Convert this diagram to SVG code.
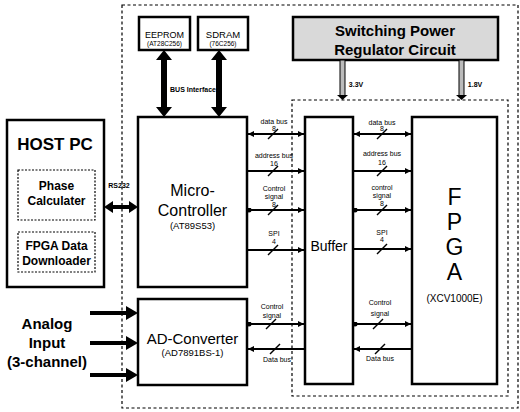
<svg xmlns="http://www.w3.org/2000/svg" width="520" height="412" viewBox="0 0 520 412">
<defs>
<style>
text{font-family:"Liberation Sans",Arial,sans-serif;fill:#000;text-anchor:middle}
.box{fill:#fff;stroke:#000;stroke-width:2.5}
.ibox{fill:#fff;stroke:#000;stroke-width:1.2;stroke-dasharray:2 1.5}
.dash{fill:none;stroke:#000;stroke-width:1.2;stroke-dasharray:3 2.5}
.bus{stroke:#000;stroke-width:1.8;fill:none}
.sl{stroke:#000;stroke-width:1.5}
.lbl{font-size:7px}
.b{font-weight:bold}
.thick{fill:#000}
</style>
<marker id="ar" viewBox="0 0 6 6" refX="6" refY="3" markerWidth="6" markerHeight="6" markerUnits="userSpaceOnUse" orient="auto-start-reverse"><path d="M0,0 L6,3 L0,6 z" fill="#000"/></marker>
<marker id="dot" viewBox="0 0 6 6" refX="3" refY="3" markerWidth="5" markerHeight="5" markerUnits="userSpaceOnUse"><circle cx="3" cy="3" r="3" fill="#000"/></marker>
</defs>
<rect width="520" height="412" fill="#fff"/>
<g id="regions">
<rect class="dash" x="122" y="5" width="396" height="403"/>
<rect class="dash" x="292" y="100" width="216" height="296"/>
</g>
<g id="power">
<rect x="293" y="17" width="205" height="43" fill="#d9d9d9" stroke="#000" stroke-width="2.5"/>
<text x="395" y="36" font-size="15" class="b">Switching Power</text>
<text x="395" y="55" font-size="15" class="b">Regulator Circuit</text>
</g>
<g id="eeprom">
<rect class="box" x="139" y="17" width="51" height="33"/>
<text x="164.5" y="38" font-size="9">EEPROM</text>
<text x="164.5" y="46" font-size="6.5">(AT28C256)</text>
</g>
<g id="sdram">
<rect class="box" x="198" y="17" width="50" height="33"/>
<text x="223" y="38" font-size="9.5">SDRAM</text>
<text x="223" y="46" font-size="6.5">(76C256)</text>
</g>
<g id="hostpc">
<rect class="box" x="7" y="120" width="97" height="167"/>
<text x="55" y="150" font-size="17" class="b">HOST PC</text>
<rect class="ibox" x="18" y="170" width="77" height="50"/>
<text x="56.5" y="190" font-size="12" class="b">Phase</text>
<text x="56.5" y="205" font-size="12" class="b">Calculater</text>
<rect class="ibox" x="18" y="232" width="77" height="40"/>
<text x="56.5" y="250" font-size="12" class="b">FPGA Data</text>
<text x="56.5" y="265" font-size="12" class="b">Downloader</text>
</g>
<g id="micro">
<rect class="box" x="138" y="117" width="109" height="170"/>
<text x="192.5" y="196" font-size="16">Micro-</text>
<text x="192.5" y="216" font-size="16">Controller</text>
<text x="192.5" y="229" font-size="9.5">(AT89S53)</text>
</g>
<g id="adc">
<rect class="box" x="138" y="299" width="109" height="86"/>
<text x="192.5" y="344" font-size="15">AD-Converter</text>
<text x="192.5" y="356" font-size="9.5">(AD7891BS-1)</text>
</g>
<g id="buffer">
<rect class="box" x="305" y="117" width="48" height="267"/>
<text x="329" y="251" font-size="14">Buffer</text>
</g>
<g id="fpga">
<rect class="box" x="412" y="117" width="85" height="267"/>
<text x="454.5" y="205" font-size="23">F</text>
<text x="454.5" y="230" font-size="23">P</text>
<text x="454.5" y="255" font-size="23">G</text>
<text x="454.5" y="280" font-size="23">A</text>
<text x="454.5" y="302" font-size="10">(XCV1000E)</text>
</g>
<g id="analog">
<text x="47" y="329" font-size="15" class="b">Analog</text>
<text x="47" y="348" font-size="15" class="b">Input</text>
<text x="47" y="367" font-size="15" class="b">(3-channel)</text>
</g>
<g id="connectors">
<rect x="340" y="60" width="5" height="36" fill="#bbb" stroke="#000" stroke-width="1"/>
<path d="M337,95 L348,95 L342.5,100 Z" fill="#000"/>
<text x="356" y="87" class="lbl b">3.3V</text>
<rect x="459" y="60" width="5" height="36" fill="#bbb" stroke="#000" stroke-width="1"/>
<path d="M456,95 L467,95 L461.5,100 Z" fill="#000"/>
<text x="475" y="87" class="lbl b">1.8V</text>
<path class="thick" d="M164,50 L172,60 L167,60 L167,107 L172,107 L164,117 L156,107 L161,107 L161,60 L156,60 Z"/>
<path class="thick" d="M219,50 L227,60 L222,60 L222,107 L227,107 L219,117 L211,107 L216,107 L216,60 L211,60 Z"/>
<text x="193" y="92" class="lbl b">BUS Interface</text>
<path class="thick" d="M104,207 L113,201 L113,205 L129,205 L129,201 L138,207 L129,213 L129,209 L113,209 L113,213 Z"/>
<text x="119" y="188" class="lbl b">RS232</text>
<path class="thick" d="M90,311 L126,311 L126,306 L138,313 L126,320 L126,315 L90,315 Z"/>
<path class="thick" d="M90,341 L126,341 L126,336 L138,343 L126,350 L126,345 L90,345 Z"/>
<path class="thick" d="M90,373 L126,373 L126,368 L138,375 L126,382 L126,377 L90,377 Z"/>
<line class="bus" x1="248" y1="134" x2="304" y2="134" marker-start="url(#ar)" marker-end="url(#ar)"/>
<line class="sl" x1="268" y1="139" x2="278" y2="129"/>
<text x="274" y="124" class="lbl">data bus</text>
<text x="274" y="131" class="lbl">8</text>
<line class="bus" x1="248" y1="171" x2="304" y2="171" marker-end="url(#ar)"/>
<line class="sl" x1="268" y1="176" x2="278" y2="166"/>
<text x="274" y="157.5" class="lbl">address bus</text>
<text x="274" y="165.5" class="lbl">16</text>
<line class="bus" x1="249" y1="210" x2="304" y2="210" marker-start="url(#dot)" marker-end="url(#ar)"/>
<line class="sl" x1="268" y1="215" x2="278" y2="205"/>
<text x="274" y="190.5" class="lbl">Control</text>
<text x="274" y="199" class="lbl">signal</text>
<text x="274" y="207" class="lbl">8</text>
<line class="bus" x1="248" y1="250" x2="304" y2="250" marker-end="url(#ar)"/>
<line class="sl" x1="268" y1="255" x2="278" y2="245"/>
<text x="274" y="235.5" class="lbl">SPI</text>
<text x="274" y="243.5" class="lbl">4</text>
<line class="bus" x1="354" y1="134" x2="411" y2="134" marker-start="url(#ar)" marker-end="url(#ar)"/>
<line class="sl" x1="377" y1="139" x2="387" y2="129"/>
<text x="382" y="124.5" class="lbl">data bus</text>
<text x="382" y="131" class="lbl">8</text>
<line class="bus" x1="354" y1="171" x2="411" y2="171" marker-end="url(#ar)"/>
<line class="sl" x1="377" y1="176" x2="387" y2="166"/>
<text x="382" y="156" class="lbl">address bus</text>
<text x="382" y="164.5" class="lbl">16</text>
<line class="bus" x1="355" y1="210" x2="411" y2="210" marker-start="url(#dot)" marker-end="url(#ar)"/>
<line class="sl" x1="377" y1="215" x2="387" y2="205"/>
<text x="382" y="189.5" class="lbl">control</text>
<text x="382" y="198" class="lbl">signal</text>
<text x="382" y="206" class="lbl">8</text>
<line class="bus" x1="354" y1="249" x2="411" y2="249" marker-end="url(#ar)"/>
<line class="sl" x1="377" y1="254" x2="387" y2="244"/>
<text x="382" y="234.5" class="lbl">SPI</text>
<text x="382" y="241.5" class="lbl">4</text>
<line class="bus" x1="249" y1="324" x2="304" y2="324" marker-start="url(#dot)" marker-end="url(#ar)"/>
<line class="sl" x1="266" y1="329" x2="276" y2="319"/>
<text x="272" y="309" class="lbl">Control</text>
<text x="272" y="318" class="lbl">signal</text>
<line class="bus" x1="248" y1="349" x2="304" y2="349" marker-start="url(#ar)"/>
<line class="sl" x1="270" y1="354" x2="280" y2="344"/>
<text x="277" y="362" class="lbl">Data bus</text>
<line class="bus" x1="355" y1="324" x2="411" y2="324" marker-start="url(#dot)" marker-end="url(#ar)"/>
<line class="sl" x1="373" y1="329" x2="383" y2="319"/>
<text x="380" y="305" class="lbl">Control</text>
<text x="380" y="316" class="lbl">signal</text>
<line class="bus" x1="354" y1="349" x2="412" y2="349" marker-start="url(#ar)"/>
<line class="sl" x1="375" y1="354" x2="385" y2="344"/>
<text x="380" y="361" class="lbl">Data bus</text>
</g>
</svg>
